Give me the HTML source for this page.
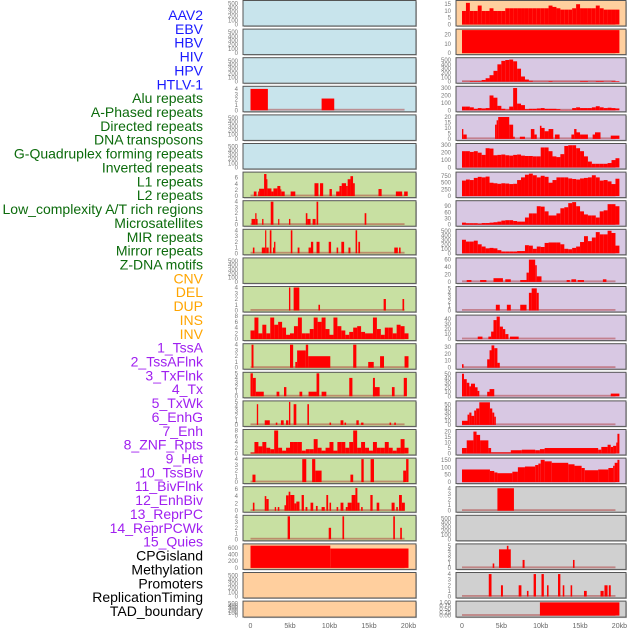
<!DOCTYPE html>
<html><head><meta charset="utf-8"><style>
html,body{margin:0;padding:0;background:#fff;}
svg{display:block;font-family:"Liberation Sans",sans-serif;}
</style></head><body>
<svg id="chart" width="630" height="630" viewBox="0 0 630 630" xmlns="http://www.w3.org/2000/svg"></svg>
<script>
const labelNames = ["AAV2","EBV","HBV","HIV","HPV","HTLV-1","Alu repeats","A-Phased repeats","Directed repeats","DNA transposons","G-Quadruplex forming repeats","Inverted repeats","L1 repeats","L2 repeats","Low_complexity A/T rich regions","Microsatellites","MIR repeats","Mirror repeats","Z-DNA motifs","CNV","DEL","DUP","INS","INV","1_TssA","2_TssAFlnk","3_TxFlnk","4_Tx","5_TxWk","6_EnhG","7_Enh","8_ZNF_Rpts","9_Het","10_TssBiv","11_BivFlnk","12_EnhBiv","13_ReprPC","14_ReprPCWk","15_Quies","CPGisland","Methylation","Promoters","ReplicationTiming","TAD_boundary"];
const labelGroups = ["v","v","v","v","v","v","r","r","r","r","r","r","r","r","r","r","r","r","r","c","c","c","c","c","s","s","s","s","s","s","s","s","s","s","s","s","s","s","s","o","o","o","o","o"];
const xTicks = [0,5,10,15,20];
const xTickLabels = ["0","5kb","10kb","15kb","20kb"];
const t500 = [0,100,200,300,400,500];
const t4 = [0,1,2,3,4];

const hivSeg = [[0,2.2,4],[9.0,10.6,2.2]];
const aluSeg = [[0.42,0.76,1.5],[0.97,1.09,1.5],[1.09,1.72,2.4],[1.72,2.02,7.2],[2.02,2.14,5.5],[2.14,2.65,2.5],[2.65,2.9,1.5],[2.9,3.4,2.5],[3.4,3.78,3.3],[3.78,3.9,2.2],[3.9,4.33,1.5],[5.08,5.67,1.5],[8.1,8.6,4.2],[8.8,9.2,4.2],[10.0,10.3,2.3],[10.84,11.26,1.5],[11.26,11.55,3.3],[11.55,12.1,4.2],[12.1,12.3,3.3],[12.3,12.65,5.5],[12.65,12.98,6.5],[12.98,13.2,4.2],[16.2,16.6,2.3],[18.4,19.2,1.5],[19.45,19.9,1.5]];
const aphasedSeg = [[0.13,0.6,1],[0.6,0.76,2],[0.76,0.9,1],[1.47,1.64,1],[2.56,2.9,4],[3.5,3.65,1],[4.87,5.04,1],[7.0,7.2,2],[7.2,7.6,1],[7.86,8.24,1],[8.36,8.57,4],[14.45,14.66,2]];
const directedSeg = [[0.3,0.5,1],[1.43,1.85,1],[1.85,2.0,4],[2.0,2.3,1],[2.44,2.65,4],[2.85,2.98,1],[2.98,3.15,2],[5.1,5.3,4],[5.97,6.2,1],[7.35,7.65,1],[7.65,7.94,2],[8.36,8.74,2],[9.9,10.2,2],[10.9,11.1,1],[11.5,11.85,2],[12.4,12.65,1],[13.3,13.5,4],[13.65,13.87,2],[18.2,18.65,1],[18.8,19.0,1]];
const gquadSeg = [[4.87,5.04,4],[5.46,6.18,4],[8.6,8.8,1],[16.85,17.14,2],[19.24,19.45,2]];
const invertedBins = [3,7.5,2,5,2,7.5,5,6,4,1.5,2,4.5,7.5,2,2,3.5,7.5,6,7.5,3.5,1.5,7.5,4.5,3,1.5,2.5,4,4.5,2.5,2,2,7.5,3.5,1.5,4,4,2,5,4.5,2];
const l1Seg = [[0.13,0.38,4],[5.0,5.4,4],[5.67,5.9,1],[5.9,7.0,3],[7.0,7.3,4],[7.3,10.1,2],[13.0,13.4,4],[14.9,15.6,1],[16.4,16.9,2],[19.5,20.0,2]];
const l2Seg = [[0,0.3,5],[0.3,0.67,4],[0.67,1.68,1],[3.3,3.65,1],[4.24,4.54,2],[6.2,6.55,1],[7.35,8.36,1],[8.36,8.7,5],[9.0,9.6,1],[12.5,12.9,4],[15.5,16.35,2],[15.5,15.75,4],[17.9,18.24,2],[19.4,19.8,4]];
const lowcSeg = [[0.8,0.97,4.5],[1.8,2.44,1],[3.2,3.4,0.5],[3.85,4.2,1],[4.5,4.8,1],[4.87,5.04,5],[5.46,5.8,4.5],[7.2,7.4,4.5],[10.0,10.2,0.5],[11.4,11.76,1],[11.9,12.1,0.5],[13.4,13.7,1],[14.0,14.3,0.5],[17.6,17.8,0.5],[18.2,18.4,0.5]];
const microBins = [0.3,4,2.5,4,2,1.5,8,2,1,2,4,4,4,1,1.5,1.5,5,2,1,2,4,1,4,4,2,4,8,2,4,2,1,4,2,2,4,2,1,2,5,2];
const mirSeg = [[0.25,0.63,1.3],[6.55,7.06,4],[7.8,8.2,4],[8.2,9.0,2],[12.65,13.0,1.3],[14.03,14.33,4],[15.2,15.63,4],[19.33,19.7,2],[19.7,20.0,4]];
const mirrorSeg = [[0.3,0.5,2.2],[1.8,2.0,4],[2.0,2.3,3.2],[3.07,3.24,1],[3.45,3.65,1],[4.3,4.5,1.5],[4.5,4.83,4.2],[4.83,5.04,5.2],[5.04,5.55,4.3],[5.55,5.8,2],[5.8,6.2,2.5],[6.47,6.76,4.3],[6.97,7.2,1],[7.6,7.94,2.2],[8.28,8.5,1.3],[9.0,9.4,1],[9.6,9.83,4.3],[10.0,10.2,2.2],[10.9,11.1,1],[11.4,11.76,2.2],[12.06,12.3,1],[12.3,12.8,2.2],[12.8,13.28,4.3],[13.28,13.53,6.2],[13.53,13.8,2.2],[14.0,14.2,1],[15.17,15.46,4.3],[15.97,16.3,2.2],[17.86,18.24,2.2],[18.45,18.65,1],[18.8,19.16,4.3],[19.16,19.54,2.2]];
const zdnaSeg = [[4.7,5.0,4],[9.9,10.2,2],[11.64,11.85,4],[18.07,18.28,4],[18.95,19.16,2]];
const cnvSeg = [[0,10.1,667],[10.1,20,581]];
const insBins = [10,16,10,10,14,10,10,12,10,10,10,12,12,12,12,12,12,12,12,12,12,12,14,13,12,11,11,11,12,15,12,12,12,12,14,12,11,11,11,11];
const invSeg = [[0,20,25]];
const tssaBins = [5,5,15,15,15,40,80,150,250,400,480,500,510,470,300,120,50,20,5,5,5,5,15,5,5,5,5,5,5,5,15,15,5,5,15,15,5,5,15,15];
const tssaflnkBins = [50,50,40,20,30,25,30,200,170,60,20,10,50,300,90,70,15,20,20,25,30,20,20,20,15,5,5,5,30,40,30,30,30,40,55,40,30,35,30,25];
const txflnkSeg = [[0,0.17,9],[0.17,0.6,4],[4.2,4.4,13],[4.4,4.6,17],[4.6,6.0,20],[6.0,6.5,13],[6.5,6.7,2],[7.35,8.0,2],[8.75,9.2,9],[9.2,9.5,4],[9.9,10.1,12],[10.1,10.5,10],[10.5,11.0,7],[11.0,11.6,9],[11.8,12.4,4],[13.9,14.25,4],[14.25,14.55,9],[14.55,15.0,6],[15.0,16.0,4],[16.6,16.9,4],[16.9,17.6,6],[18.9,20,3]];
const txBins = [220,220,210,220,200,170,260,255,165,170,175,165,160,170,175,160,155,155,150,150,270,270,220,150,140,180,290,300,300,260,220,150,80,50,50,50,50,60,100,125];
const txwkBins = [580,620,600,680,720,700,730,500,480,460,480,470,450,460,600,700,800,840,780,700,760,720,500,600,700,700,700,660,640,620,660,680,700,780,700,580,600,550,450,650];
const enhgBins = [10,7,7,7,5,8,8,10,12,15,20,22,22,18,15,15,35,55,55,90,88,65,45,45,55,80,85,105,110,90,65,50,45,45,35,65,70,100,100,90];
const enhBins = [300,260,260,280,200,150,110,120,110,70,40,40,40,40,50,50,180,170,100,150,140,230,240,240,240,200,100,90,120,150,250,380,270,350,470,420,420,500,450,170];
const znfSeg = [[0.6,1.2,5],[2.3,3.1,5],[4.0,5.2,10],[5.5,6.2,7],[7.4,8.2,5],[8.2,8.5,25],[8.5,9.3,60],[9.3,9.5,45],[9.5,10.1,15],[13.3,13.7,5],[13.9,14.5,7],[14.7,15.5,5],[17.9,18.35,7]];
const hetSeg = [[4.3,4.8,1.3],[5.7,6.2,1.3],[7.4,8.2,1.3],[8.5,8.85,4],[8.85,9.5,5],[9.5,9.75,4]];
const tssbivSeg = [[2.0,2.6,5],[3.35,3.7,5],[3.7,4.0,15],[4.0,4.4,38],[4.4,4.8,45],[4.8,5.2,25],[5.2,5.5,20],[5.5,5.9,10],[6.1,7.2,5]];
const bivflnkSeg = [[0,0.2,5],[3.2,3.5,12],[3.5,3.75,25],[3.75,4.1,32],[4.1,4.5,28],[4.5,4.8,7]];
const enhbivSeg = [[0,0.25,50],[0.25,0.6,38],[0.6,0.93,30],[0.93,1.14,22],[1.14,1.65,28],[1.65,1.98,20],[1.98,2.2,12],[3.2,3.5,10],[3.5,4.1,16],[18.9,20,6]];
const reprpcSeg = [[0,0.7,10],[0.7,0.93,25],[0.93,1.2,30],[1.2,1.55,22],[1.55,1.8,35],[1.8,2.2,40],[2.2,3.55,55],[3.55,3.85,40],[3.85,4.1,30],[4.1,4.3,20]];
const reprpcwkSeg = [[0,0.6,5],[0.6,1.45,12],[1.45,1.85,20],[1.85,2.3,17],[2.3,3.35,12],[3.35,3.7,5],[3.7,6.2,1],[6.2,7.6,3],[7.6,9.3,3.5],[9.3,9.9,3],[9.9,10.5,4],[10.5,17.3,5],[17.3,17.7,3.5],[17.7,18.5,6],[18.5,18.9,8],[18.9,19.2,6],[19.2,19.6,7],[19.6,19.75,10],[19.75,20,18]];
const quiesSeg = [[0,3.55,85],[3.55,4.1,75],[4.1,4.5,65],[4.5,6.4,60],[6.4,7.1,70],[7.1,8.0,100],[8.0,9.3,105],[9.3,9.7,115],[9.7,10.0,125],[10.0,10.5,150],[10.5,11.4,140],[11.4,13.5,130],[13.5,14.3,120],[14.3,15.2,110],[15.2,15.6,95],[15.6,17.3,80],[17.3,18.6,85],[18.6,19.2,95],[19.2,19.4,110],[19.4,19.75,130],[19.75,20,150]];
const cpgSeg = [[4.5,6.6,4]];
const promSeg = [[3.9,4.1,1],[4.7,6.2,4.2],[5.7,5.9,5],[7.7,7.95,1.8],[14.1,14.3,1.8]];
const repSeg = [[3.4,3.75,4],[4.95,5.2,2],[7.2,7.55,2],[8.25,8.45,1],[9.1,9.4,4],[10.1,10.4,4],[10.8,11.0,2],[12.2,12.5,4],[12.8,13.0,2],[13.8,14.0,2],[15.5,15.85,1],[17.6,18.0,1],[18.1,18.5,2],[18.65,18.9,2]];
const tadSeg = [[9.9,20,1]];

const C = {blue:"#c8e4ec", green:"#c8e0a2", orange:"#ffcf9e", purple:"#d8c8e3", grey:"#d0d0d0"};
const panels = [
 ["aav2","blue",550,t500,"seg",[]],["ebv","blue",550,t500,"seg",[]],["hbv","blue",550,t500,"seg",[]],
 ["hiv","blue",4.3,t4,"seg",hivSeg],["hpv","blue",550,t500,"seg",[]],["htlv1","blue",550,t500,"seg",[]],
 ["alu","green",7.5,[0,2,4,6],"seg",aluSeg],["a-phased","green",4,t4,"seg",aphasedSeg],["directed","green",4,t4,"seg",directedSeg],
 ["dna-transposons","green",550,t500,"seg",[]],["g-quadruplex","green",4,t4,"seg",gquadSeg],["inverted","green",8,[0,2,4,6,8],"bin",invertedBins],
 ["l1","green",4,t4,"seg",l1Seg],["l2","green",5,[0,1,2,3,4,5],"seg",l2Seg],["low-complexity","green",5,[0,1,2,3,4,5],"seg",lowcSeg],
 ["microsatellites","green",8,[0,2,4,6,8],"bin",microBins],["mir","green",4,t4,"seg",mirSeg],["mirror","green",6.3,[0,2,4,6],"seg",mirrorSeg],
 ["z-dna","green",4,t4,"seg",zdnaSeg],["cnv","orange",690,[0,200,400,600],"seg",cnvSeg],["del","orange",550,t500,"seg",[]],["dup","orange",550,t500,"seg",[]],
 ["ins","orange",17,[0,5,10,15],"bin",insBins],["inv","orange",25,[0,10,20],"seg",invSeg],["tssa","purple",530,t500,"bin",tssaBins],
 ["tssaflnk","purple",310,[0,100,200,300],"bin",tssaflnkBins],["txflnk","purple",21,[0,5,10,15,20],"seg",txflnkSeg],["tx","purple",310,[0,100,200,300],"bin",txBins],
 ["txwk","purple",860,[0,250,500,750],"bin",txwkBins],["enhg","purple",112,[0,30,60,90],"bin",enhgBins],["enh","purple",510,t500,"bin",enhBins],
 ["znf-rpts","purple",62,[0,20,40,60],"seg",znfSeg],["het","purple",5.2,[0,1,2,3,4,5],"seg",hetSeg],["tssbiv","purple",46,[0,10,20,30,40],"seg",tssbivSeg],
 ["bivflnk","purple",33,[0,10,20,30],"seg",bivflnkSeg],["enhbiv","purple",51,[0,10,20,30,40,50],"seg",enhbivSeg],["reprpc","purple",56,[0,10,20,30,40,50],"seg",reprpcSeg],
 ["reprpcwk","purple",21,[0,5,10,15,20],"seg",reprpcwkSeg],["quies","purple",155,[0,50,100,150],"seg",quiesSeg],
 ["cpgisland","grey",4.1,t4,"seg",cpgSeg],["methylation","grey",550,t500,"seg",[]],["promoters","grey",5.2,[0,1,2,3,4,5],"seg",promSeg],
 ["replication-timing","grey",4.1,t4,"seg",repSeg],["tad-boundary","grey",1.02,[0,0.25,0.5,0.75,1],"seg",tadSeg]
];

const NS="http://www.w3.org/2000/svg";
const svg=document.getElementById("chart");
function mk(tag,attrs,parent){const e=document.createElementNS(NS,tag);for(const k in attrs)e.setAttribute(k,attrs[k]);(parent||svg).appendChild(e);return e;}

const labelColors={v:"#1a1aff",r:"#0c6b0c",c:"#ffa500",s:"#a020f0",o:"#000000"};
labelNames.forEach((n,i)=>{
  const t=mk("text",{x:203,y:15+i*13.86+5,"text-anchor":"end","font-size":14,fill:labelColors[labelGroups[i]]});
  
  
  t.textContent=n;
});

const cols=[{bx:243,bw:173,x0:250.5,k:7.9,tx:238},{bx:456,bw:170,x0:462,k:7.87,tx:451}];
panels.forEach((p,i)=>{
  const col=cols[i<22?0:1]; const r=i%22;
  const top=r*28.6+0.5; const h=(r===21)?16:25.5;
  const g=mk("g",{});
  
  
  mk("rect",{x:col.bx+1,y:top+1,width:col.bw,height:h,fill:"#999",opacity:0.6},g);
  mk("rect",{x:col.bx,y:top,width:col.bw,height:h,fill:C[p[1]],stroke:"#555","stroke-width":1},g);
  const yb=top+h-1.5, yt=top+1, ymax=p[2];
  const ys=v=>yb-(v/ymax)*(yb-yt);
  const xs=kb=>col.x0+kb*col.k;
  p[3].forEach(v=>{
    const t=mk("text",{x:col.tx,y:ys(v)+2,"text-anchor":"end","font-size":6,fill:"#777"},g);
    
    
    t.textContent=(ymax===1.02)?v.toFixed(2):String(v);
  });
  if(p[5].length>0){
    mk("rect",{x:xs(0),y:yb-1.5,width:xs(19.5)-xs(0),height:1.8,fill:"rgba(170,40,40,0.45)"},g);
  }
  const bars=[];
  if(p[4]==="bin"){p[5].forEach((v,j)=>bars.push([j*0.5,j*0.5+0.5,v]));}
  else p[5].forEach(s=>bars.push(s));
  bars.forEach(b=>{
    const y=ys(Math.min(b[2],ymax));
    const r2=mk("rect",{x:xs(b[0]),y:y,width:Math.max(0.8,xs(b[1])-xs(b[0])),height:yb-y,fill:"#ff0000"},g);
    
    
  });
});
cols.forEach((col,ci)=>{
  xTicks.forEach((v,j)=>{
    const t=mk("text",{x:col.x0+v*col.k,y:628,"text-anchor":"middle","font-size":7,fill:"#666"});
    
    
    t.textContent=xTickLabels[j];
  });
});
</script>
</body></html>
